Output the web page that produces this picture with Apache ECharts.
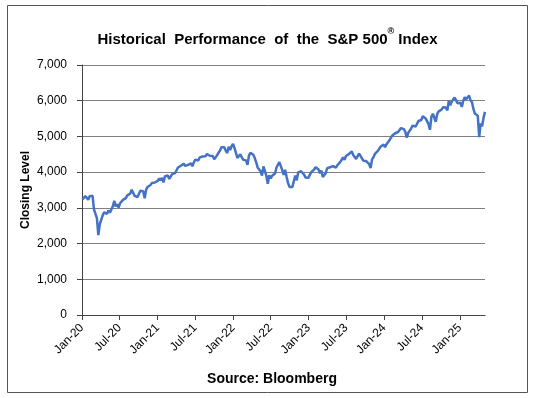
<!DOCTYPE html>
<html>
<head>
<meta charset="utf-8">
<script src="https://cdn.jsdelivr.net/npm/echarts@6/dist/echarts.min.js"></script>
<style>
  html, body { margin: 0; padding: 0; background: #fff; }
  #main { width: 535px; height: 398px; }
</style>
</head>
<body>
<div id="main"></div>
<script>
// weekly closes (Fridays, or last trading day of the week)
var close2020 = [3235, 3265, 3330, 3295, 3226, 3328, 3380, 3338, 2954, 2972, 2711, 2237, 2541,
  2489, 2790, 2875, 2837, 2831, 2930, 2864, 2955, 3044, 3194, 3041, 3098, 3009,
  3130, 3185, 3225, 3216, 3271, 3351, 3373, 3397, 3508, 3427, 3341, 3319, 3298,
  3348, 3477, 3484, 3465, 3270, 3510, 3585, 3558, 3638, 3699, 3663, 3709, 3703];
var close2021 = [3756, 3825, 3768, 3841, 3714, 3887, 3934, 3907, 3811, 3842, 3943, 3913, 3975,
  4020, 4129, 4185, 4180, 4181, 4233, 4174, 4156, 4204, 4230, 4247, 4166, 4281,
  4352, 4370, 4327, 4412, 4395, 4437, 4468, 4442, 4509, 4535, 4459, 4433, 4455,
  4357, 4391, 4471, 4545, 4605, 4698, 4683, 4698, 4595, 4538, 4712, 4620, 4726, 4793];
var close2022 = [4677, 4663, 4398, 4432, 4501, 4419, 4349, 4385, 4329, 4204, 4463, 4543,
  4546, 4488, 4393, 4272, 4132, 4123, 4024, 3901, 4158, 4109, 3901, 3675, 3912,
  3825, 3899, 3863, 3962, 4130, 4145, 4280, 4228, 4058, 3924, 4067, 3873, 3693, 3586,
  3640, 3583, 3752, 3901, 3771, 3993, 3965, 4026, 4072, 3934, 3852, 3845, 3840];
var close2023 = [3895, 3999, 3973, 4071, 4136, 4090, 4079, 3970, 4046, 3862, 3917, 3971, 4109,
  4105, 4138, 4134, 4169, 4136, 4124, 4192, 4205, 4282, 4299, 4410, 4348, 4450,
  4399, 4505, 4536, 4582, 4478, 4464, 4370, 4406, 4516, 4457, 4450, 4320, 4288,
  4309, 4327, 4224, 4117, 4358, 4415, 4514, 4559, 4595, 4604, 4719, 4755, 4770];
var close2024 = [4697, 4784, 4840, 4891, 4959, 5027, 5006, 5089, 5137, 5124, 5117, 5234, 5254,
  5204, 5123, 4967, 5100, 5128, 5223, 5303, 5305, 5278, 5347, 5432, 5465, 5460,
  5567, 5615, 5505, 5459, 5346, 5186, 5554, 5635, 5648, 5408, 5626, 5703, 5738,
  5751, 5815, 5864, 5808, 5729, 5996, 5870, 5969, 6032, 6090, 6051, 5931, 5971];
var close2025 = [5942, 5827, 5997, 6101, 6041, 6026, 6144, 6013, 5955, 5770, 5639, 5668, 5581,
  4982, 5363, 5283, 5525, 5686];

var firstWeek = '2020-01-03';
var axisStart = '2020-01-01';
var axisEnd = '2025-05-02';

var tickDates = ['2020-01-01', '2020-07-01', '2021-01-01', '2021-07-01', '2022-01-01', '2022-07-01',
  '2023-01-01', '2023-07-01', '2024-01-01', '2024-07-01', '2025-01-01'];
var tickLabels = ['Jan-20', 'Jul-20', 'Jan-21', 'Jul-21', 'Jan-22', 'Jul-22',
  'Jan-23', 'Jul-23', 'Jan-24', 'Jul-24', 'Jan-25'];

var yTicks = [0, 1000, 2000, 3000, 4000, 5000, 6000, 7000];

// date string -> day number since axisStart (x axis runs in days)
function dayNum(s) {
  var p = s.split('-');
  var a = axisStart.split('-');
  return (Date.UTC(+p[0], +p[1] - 1, +p[2]) - Date.UTC(+a[0], +a[1] - 1, +a[2])) / 86400000;
}

var closes = [].concat(close2020, close2021, close2022, close2023, close2024, close2025);
var seriesData = [];
var d0 = dayNum(firstWeek);
for (var i = 0; i < closes.length; i++) {
  seriesData.push([d0 + i * 7, closes[i]]);
}
var tickDays = tickDates.map(dayNum);

var chart = echarts.init(document.getElementById('main'));
var font = 'Liberation Sans, Arial, sans-serif';

var option = {
  animation: false,
  backgroundColor: '#fff',
  title: {
    text: '{t|Historical  Performance  of  the  S&P 500}{s|®}{t| Index}',
    left: 'center',
    top: 22,
    textStyle: {
      rich: {
        t: { fontFamily: font, fontSize: 15, fontWeight: 'bold', color: '#000', verticalAlign: 'bottom', lineHeight: 20 },
        s: { fontFamily: font, fontSize: 9, fontWeight: 'bold', color: '#000', verticalAlign: 'top', lineHeight: 20 }
      }
    }
  },
  graphic: [
    { type: 'rect', shape: { x: 7.5, y: 5.5, width: 520, height: 387 },
      style: { fill: 'none', stroke: '#555', lineWidth: 1 }, z: -1 },
    { type: 'text', x: 272, y: 379,
      style: { text: 'Source: Bloomberg', font: 'bold 14px ' + font, fill: '#000', align: 'center', verticalAlign: 'middle' } }
  ],
  grid: { left: 82, right: 50, top: 65, bottom: 83, containLabel: false },
  xAxis: {
    type: 'value',
    min: 0,
    max: dayNum(axisEnd),
    axisLine: { lineStyle: { color: '#444', width: 1 } },
    axisTick: { show: true, length: 5, customValues: tickDays, lineStyle: { color: '#444' } },
    axisLabel: {
      customValues: tickDays,
      rotate: 45,
      margin: 11,
      fontFamily: font,
      fontSize: 12,
      color: '#000',
      formatter: function (v) {
        var k = tickDays.indexOf(v);
        return k >= 0 ? tickLabels[k] : '';
      }
    },
    splitLine: { show: false }
  },
  yAxis: {
    type: 'value',
    min: yTicks[0],
    max: yTicks[yTicks.length - 1],
    interval: 1000,
    name: 'Closing Level',
    nameLocation: 'middle',
    nameGap: 50,
    nameMoveOverlap: false,
    nameTextStyle: { fontFamily: font, fontSize: 12, fontWeight: 'bold', color: '#000' },
    axisLine: { show: true, lineStyle: { color: '#444', width: 1 } },
    axisTick: { show: true, length: 5, lineStyle: { color: '#444' } },
    axisLabel: {
      margin: 15,
      fontFamily: font,
      fontSize: 12,
      color: '#000',
      formatter: function (v) { return v.toLocaleString('en-US'); }
    },
    splitLine: { show: true, lineStyle: { color: '#808080', width: 1 } }
  },
  series: [{
    type: 'line',
    data: seriesData,
    showSymbol: false,
    lineStyle: { color: '#4472C4', width: 2.5 },
    itemStyle: { color: '#4472C4' }
  }]
};
chart.setOption(option);
</script>
</body>
</html>
